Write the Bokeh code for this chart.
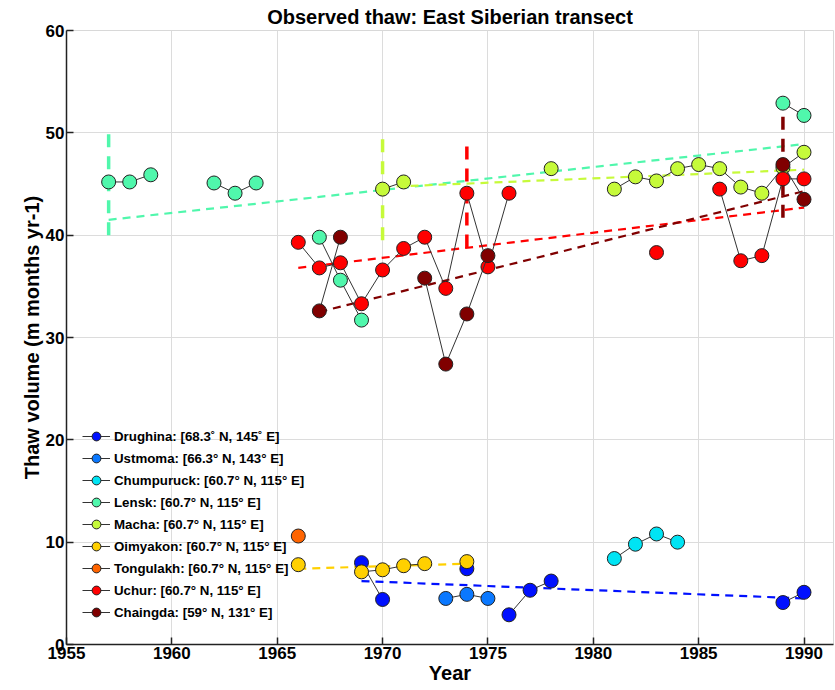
import numpy as np
from bokeh.plotting import figure
from bokeh.models import Range1d, Legend, LegendItem, FixedTicker
from bokeh.embed import file_html
from bokeh.resources import INLINE

# ---------------- data ----------------
series_names = [
    "Drughina: [68.3˚ N, 145˚ E]",
    "Ustmoma: [66.3° N, 143° E]",
    "Chumpuruck: [60.7° N, 115° E]",
    "Lensk: [60.7° N, 115° E]",
    "Macha: [60.7° N, 115° E]",
    "Oimyakon: [60.7° N, 115° E]",
    "Tongulakh: [60.7° N, 115° E]",
    "Uchur: [60.7° N, 115° E]",
    "Chaingda: [59° N, 131° E]",
]
series_colors = ["#0010ff", "#0a78ff", "#00e4f4", "#50f7ac", "#c6fa3a",
                 "#ffd000", "#ff6400", "#ff0000", "#800000"]

drughina_years = [1969, 1970, 1974, 1976, 1977, 1978, 1989, 1990]
drughina_vals = [8.0, 4.4, 7.4, 2.9, 5.3, 6.2, 4.1, 5.1]

ustmoma_years = [1973, 1974, 1975]
ustmoma_vals = [4.5, 4.9, 4.5]

chumpuruck_years = [1981, 1982, 1983, 1984]
chumpuruck_vals = [8.4, 9.8, 10.8, 10.0]

lensk_years = [1957, 1958, 1959, 1962, 1963, 1964, 1967, 1968, 1969, 1989, 1990]
lensk_vals = [45.2, 45.2, 45.9, 45.1, 44.1, 45.1, 39.8, 35.6, 31.7, 52.9, 51.7]

macha_years = [1970, 1971, 1978, 1981, 1982, 1983, 1984, 1985, 1986, 1987, 1988, 1989, 1990]
macha_vals = [44.5, 45.2, 46.5, 44.5, 45.7, 45.3, 46.5, 46.9, 46.5, 44.7, 44.1, 46.6, 48.1]

oimyakon_years = [1966, 1969, 1970, 1971, 1972, 1974]
oimyakon_vals = [7.8, 7.1, 7.3, 7.7, 7.9, 8.1]

tongulakh_years = [1966]
tongulakh_vals = [10.6]

uchur_years = [1966, 1967, 1968, 1969, 1970, 1971, 1972, 1973, 1974, 1975, 1976,
               1983, 1986, 1987, 1988, 1989, 1990]
uchur_vals = [39.3, 36.8, 37.3, 33.3, 36.6, 38.7, 39.8, 34.8, 44.1, 36.9, 44.1,
              38.3, 44.5, 37.5, 38.0, 45.5, 45.5]

chaingda_years = [1967, 1968, 1972, 1973, 1974, 1975, 1989, 1990]
chaingda_vals = [32.6, 39.8, 35.8, 27.4, 32.3, 38.0, 46.9, 43.5]

# trend lines (start/end year and value), None where absent
trend_years = [[1969, 1990], None, None, [1957, 1990], [1970, 1990],
               [1966, 1974], None, [1966, 1990], [1967, 1990]]
trend_vals = [[6.2, 4.5], None, None, [41.5, 48.9], [44.7, 46.4],
              [7.4, 7.9], None, [36.8, 42.7], [32.5, 44.3]]

# vertical dashed markers (year, low, high)
bar_series = [3, 4, 7, 8]
bar_years = [1957, 1970, 1974, 1989]
bar_lows = [40.0, 39.5, 38.8, 41.7]
bar_highs = [50.5, 49.8, 49.3, 52.3]

x_ticks = [1955, 1960, 1965, 1970, 1975, 1980, 1985, 1990]
y_ticks = [0, 10, 20, 30, 40, 50, 60]

all_years = [drughina_years, ustmoma_years, chumpuruck_years, lensk_years, macha_years,
             oimyakon_years, tongulakh_years, uchur_years, chaingda_years]
all_vals = [drughina_vals, ustmoma_vals, chumpuruck_vals, lensk_vals, macha_vals,
            oimyakon_vals, tongulakh_vals, uchur_vals, chaingda_vals]

# ---------------- figure ----------------
FONT = "Liberation Sans"
p = figure(width=835, height=690, output_backend="svg", toolbar_location=None,
           x_range=Range1d(1955, 1991.4), y_range=Range1d(0, 60),
           min_border_left=66, min_border_right=2, min_border_top=4, min_border_bottom=46)
p.title.text = "Observed thaw: East Siberian transect"
p.title.align = "center"
p.title.text_font = FONT
p.title.text_font_size = "20px"
p.title.text_font_style = "bold"
p.title.text_color = "black"
p.title.offset = 0
p.title.standoff = 6

p.outline_line_color = "#d8d8d8"
p.background_fill_color = "white"

for ax, ticks in ((p.xaxis, x_ticks), (p.yaxis, y_ticks)):
    ax.ticker = FixedTicker(ticks=ticks)
    ax.major_label_text_font = FONT
    ax.major_label_text_font_size = "17px"
    ax.major_label_text_font_style = "bold"
    ax.major_label_text_color = "black"
    ax.axis_label_text_font = FONT
    ax.axis_label_text_font_size = "20px"
    ax.axis_label_text_font_style = "bold"
    ax.axis_label_text_color = "black"
    ax.major_tick_in = 7
    ax.major_tick_out = 0
    ax.minor_tick_in = 0
    ax.minor_tick_out = 0
    ax.axis_line_color = "#222222"
    ax.axis_line_width = 1.5
    ax.major_tick_line_color = "#222222"
    ax.major_tick_line_width = 1.5
    ax.major_label_standoff = 2
    ax.axis_label_standoff = 0

p.xaxis.axis_label = "Year"
p.yaxis.axis_label = "Thaw volume (m months yr-1)"

p.grid.grid_line_color = "#dcdcdc"
p.grid.grid_line_width = 1

# trend lines
for i in range(9):
    if trend_years[i] is not None:
        p.line(trend_years[i], trend_vals[i], line_color=series_colors[i],
               line_width=2.2, line_dash="8 6")

# vertical dashed markers
for k, si in enumerate(bar_series):
    p.line([bar_years[k], bar_years[k]], [bar_lows[k], bar_highs[k]],
           line_color=series_colors[si], line_width=3.5, line_dash="13 9")

# series lines and points
items = []
for i in range(9):
    ys = all_years[i]
    vs = all_vals[i]
    lx, ly = [], []
    for j, (yy, vv) in enumerate(zip(ys, vs)):
        if j > 0 and yy - ys[j - 1] > 1:
            lx.append(np.nan)
            ly.append(np.nan)
        lx.append(yy)
        ly.append(vv)
    lr = p.line(lx, ly, line_color="#333333", line_width=1)
    sr = p.scatter(ys, vs, size=14, marker="circle", fill_color=series_colors[i],
                   line_color="#222222", line_width=1)
    items.append(LegendItem(label=series_names[i], renderers=[lr, sr]))

legend = Legend(items=items, location=(16, 21), orientation="vertical",
                label_text_font=FONT, label_text_font_size="13.3px",
                label_text_font_style="bold", label_text_color="black",
                glyph_width=28, glyph_height=22, label_height=22,
                label_standoff=4, spacing=0, padding=0, margin=0,
                background_fill_alpha=0, border_line_color=None)
p.add_layout(legend, "center")

open("out.html", "w").write(file_html(p, INLINE))
